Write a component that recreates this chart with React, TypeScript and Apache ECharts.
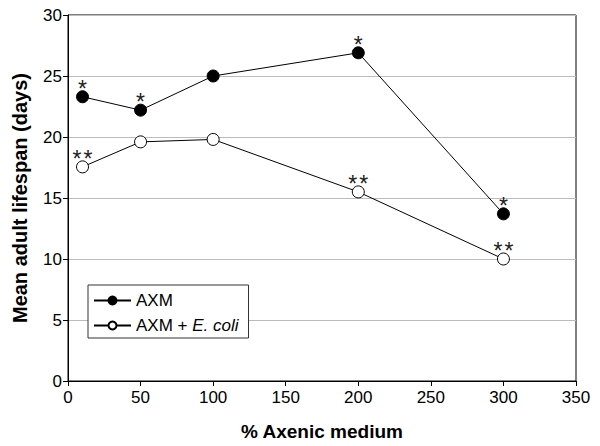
import React, { useEffect, useRef } from "react";
import * as echarts from "echarts";

const xValues = [10, 50, 100, 200, 300];
const axmValues = [23.3, 22.2, 25.0, 26.9, 13.7];
const ecoliValues = [17.55, 19.6, 19.8, 15.5, 10.0];
const axmStars = [1, 1, 0, 1, 1];
const ecoliStars = [2, 0, 0, 2, 2];

const FONT = "Liberation Sans, Arial, sans-serif";

export default function App() {
  const ref = useRef<HTMLDivElement>(null);
  useEffect(() => {
    if (!ref.current) return;
    const chart = echarts.init(ref.current, undefined, { renderer: "svg" });
    const mk = (vals: number[]) => xValues.map((x, i) => [x, vals[i]]);
    const starLabel = (arr: number[]) => ({
      show: true,
      position: "top",
      distance: -10,
      fontSize: 23,
      color: "#222",
      fontFamily: FONT,
      rich: {
        s: { fontSize: 23, color: "#222", fontFamily: FONT, padding: [0, 1, 0, 1] },
      },
      formatter: (p: any) => {
        const n = arr[p.dataIndex];
        return n === 0 ? "" : Array(n).fill("{s|*}").join("");
      },
    });
    chart.setOption({
      animation: false,
      textStyle: { fontFamily: FONT },
      grid: {
        left: 68,
        top: 15,
        width: 508,
        height: 366,
        show: true,
        borderColor: "#000",
        borderWidth: 1,
        backgroundColor: "transparent",
      },
      xAxis: {
        type: "value",
        min: 0,
        max: 350,
        interval: 50,
        name: "% Axenic medium",
        nameLocation: "middle",
        nameGap: 41,
        nameTextStyle: { fontSize: 19, fontWeight: "bold", color: "#000", fontFamily: FONT },
        axisLine: { lineStyle: { color: "#000", width: 1 } },
        axisTick: { show: true, length: 5, lineStyle: { color: "#000" } },
        axisLabel: { fontSize: 17, color: "#000", margin: 8, fontFamily: FONT },
        splitLine: { show: false },
      },
      yAxis: {
        type: "value",
        min: 0,
        max: 30,
        interval: 5,
        name: "Mean adult lifespan (days)",
        nameLocation: "middle",
        nameGap: 38,
        nameTextStyle: { fontSize: 20, fontWeight: "bold", color: "#000", fontFamily: FONT },
        axisLine: { show: true, lineStyle: { color: "#000", width: 1 } },
        axisTick: { show: true, length: 5, lineStyle: { color: "#000" } },
        axisLabel: { fontSize: 17, color: "#000", margin: 6, fontFamily: FONT },
        splitLine: { show: true, lineStyle: { color: "#bbbbbb", width: 1 } },
      },
      legend: {
        left: 88,
        top: 285,
        orient: "vertical",
        padding: [7, 10, 4, 5],
        itemGap: 8,
        itemWidth: 37,
        itemHeight: 10,
        borderColor: "#333",
        borderWidth: 1,
        backgroundColor: "#fff",
        textStyle: {
          fontSize: 17,
          color: "#000",
          fontFamily: FONT,
          rich: {
            it: { fontStyle: "italic", fontSize: 17, color: "#000", fontFamily: FONT },
            n: { fontSize: 17, color: "#000", fontFamily: FONT },
          },
        },
        formatter: (name: string) =>
          name === "AXM" ? "{n|AXM}" : "{n|AXM + }{it|E. coli}",
        data: ["AXM", "AXM + E. coli"],
      },
      series: [
        {
          name: "AXM",
          type: "line",
          data: mk(axmValues),
          symbol: "circle",
          symbolSize: 12,
          itemStyle: { color: "#000", borderColor: "#000", borderWidth: 1 },
          lineStyle: { color: "#000", width: 1 },
          label: starLabel(axmStars),
          z: 3,
        },
        {
          name: "AXM + E. coli",
          type: "line",
          data: mk(ecoliValues),
          symbol: "circle",
          symbolSize: 12,
          itemStyle: { color: "#fff", borderColor: "#000", borderWidth: 1 },
          lineStyle: { color: "#000", width: 1 },
          label: starLabel(ecoliStars),
          z: 3,
        },
      ],
    });
    return () => chart.dispose();
  }, []);
  return <div ref={ref} style={{ width: 600, height: 446, margin: -8 }} />;
}
